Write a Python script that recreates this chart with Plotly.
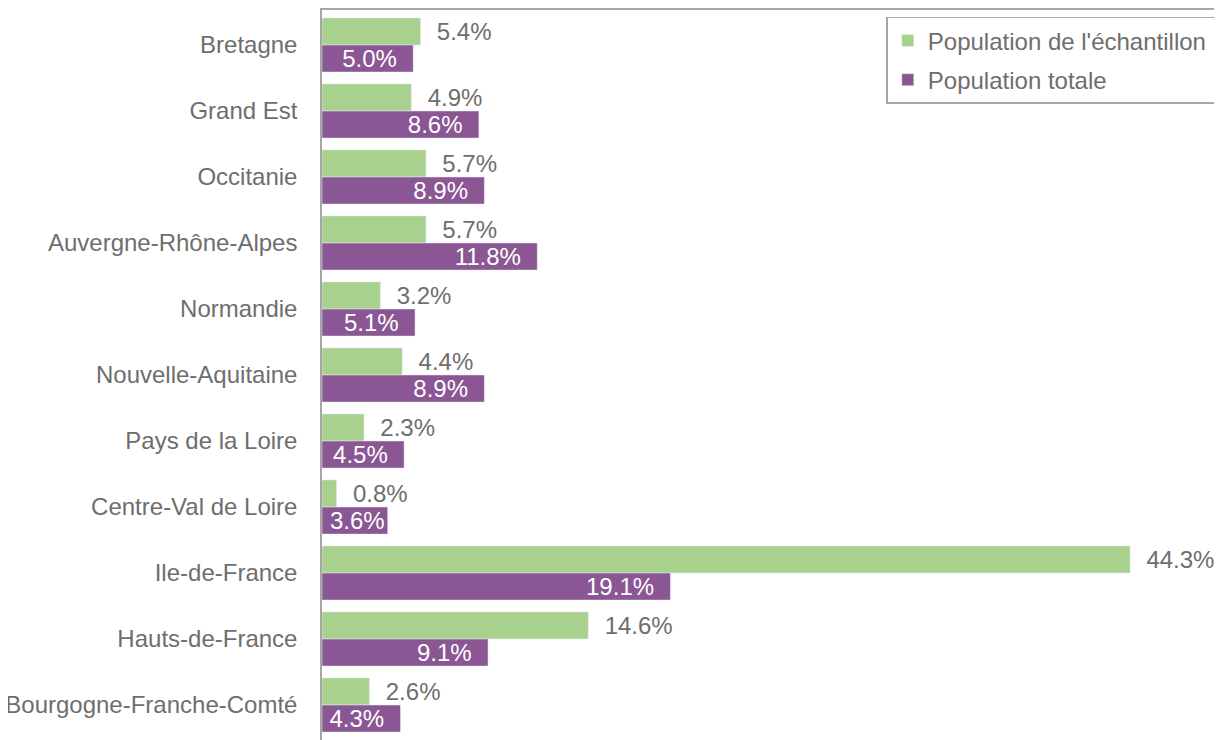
import plotly.graph_objects as go

# regions, top to bottom
regions = ['Bretagne', 'Grand Est', 'Occitanie', 'Auvergne-Rhône-Alpes', 'Normandie',
           'Nouvelle-Aquitaine', 'Pays de la Loire', 'Centre-Val de Loire', 'Ile-de-France',
           'Hauts-de-France', 'Bourgogne-Franche-Comté']

# % of the sample vs % of the total population
echantillon = [5.4, 4.9, 5.7, 5.7, 3.2, 4.4, 2.3, 0.8, 44.3, 14.6, 2.6]
totale = [5.0, 8.6, 8.9, 11.8, 5.1, 8.9, 4.5, 3.6, 19.1, 9.1, 4.3]

GREEN = '#A9D18E'
PURPLE = '#8A5693'
GRAY = '#6E6E6E'
FONT = 'Liberation Sans, Arial, sans-serif'
nb = '\u00a0'

# labels: green outside, purple inside at the end of the bar
txt_ech = [nb * 2 + f'{v:.1f}%' for v in echantillon]
txt_tot = [f'{v:.1f}%' + (nb * 2 if v >= 4 else '') for v in totale]

fig = go.Figure()
fig.add_trace(go.Bar(
    y=regions, x=echantillon, orientation='h', name="Population de l'échantillon" + nb * 4,
    marker_color=GREEN, text=txt_ech, textposition='outside',
    textfont=dict(color=GRAY, size=24, family=FONT),
    constraintext='none', cliponaxis=False, legendgroup='a',
))
fig.add_trace(go.Bar(
    y=regions, x=totale, orientation='h', name='Population totale',
    marker_color=PURPLE, text=txt_tot, textposition='inside', insidetextanchor='end',
    textfont=dict(color='white', size=24, family=FONT),
    constraintext='none', legendgroup='b',
))

# the page body adds 8px, so margins are shifted by that
fig.update_layout(
    width=1222, height=740,
    margin=dict(l=314, r=8, t=2, b=8, autoexpand=False),
    plot_bgcolor='white', paper_bgcolor='white',
    barmode='group', bargap=0.18, bargroupgap=0,
    font=dict(family=FONT, size=24, color=GRAY),
    legend=dict(x=0.627, y=0.9905, xanchor='left', yanchor='top',
                bordercolor='#A6A6A6', borderwidth=1.5, tracegroupgap=5,
                font=dict(size=24, color=GRAY, family=FONT),
                itemwidth=30),
)
fig.update_xaxes(range=[0, 49.34], side='top', showline=True, linecolor='#A6A6A6', linewidth=1.5,
                 showticklabels=False, showgrid=False, zeroline=False, ticks='')
fig.update_yaxes(range=[10.53, -0.53], showline=True, linecolor='#A6A6A6', linewidth=1.5,
                 showgrid=False, ticks='', ticklabelstandoff=18,
                 tickfont=dict(size=24, color=GRAY, family=FONT))

fig.write_html('out.html')
